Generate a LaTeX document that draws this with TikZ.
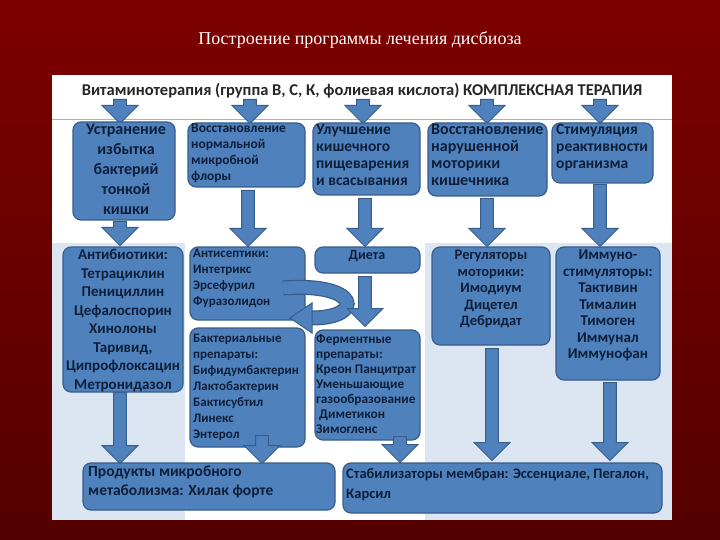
\documentclass[tikz,border=0pt]{standalone}
\usepackage{fontspec}
\setmainfont{Carlito}
\newfontfamily\titlefont{Liberation Serif}
\usetikzlibrary{shapes.arrows,arrows.meta}
\definecolor{bfill}{HTML}{4F81BD}
\definecolor{bline}{HTML}{385D8A}
\definecolor{btext}{HTML}{0F1F3A}
\definecolor{lblue}{HTML}{DCE6F2}
\definecolor{dred}{HTML}{8B0000}
\begin{document}
\begin{tikzpicture}[x=1pt,y=-1pt,
  bx/.style={draw=bline,fill=bfill,rounded corners=8pt,line width=1.2pt},
  tx/.style={text=btext,font=\bfseries,align=left,inner sep=0pt,anchor=north west},
  txc/.style={text=btext,font=\bfseries,align=center,inner sep=0pt,anchor=north},
  barrow/.style={shape=single arrow,draw=bline,fill=bfill,line width=1pt,minimum width=36pt,single arrow head extend=9pt,inner sep=0pt,single arrow head indent=0pt,rotate=-90,anchor=tail,text width=0pt,text height=9pt}]
\useasboundingbox (0,0) rectangle (720,540);
\shade[top color=dred!90!black,bottom color=dred!60!black] (0,0) rectangle (720,540);
\node[text=white,font=\titlefont\fontsize{18}{20}\selectfont] (title) at (360,40) {Построение программы лечения дисбиоза};
% panel
\fill[white] (52,75) rectangle (672,520);
\fill[lblue] (52,243) rectangle (185,520);
\fill[lblue] (425,243) rectangle (672,520);
\draw[gray!60] (52,119) -- (672,119);
\node[font=\bfseries\fontsize{16.5}{18}\selectfont,text=black!85] (hdr) at (362,91) {Витаминотерапия (группа В, С, К, фолиевая кислота) КОМПЛЕКСНАЯ ТЕРАПИЯ};
% header arrows
\foreach \x/\n in {120/a1,250/a2,363/a3,487/a4,600/a5}
  \node[barrow,minimum height=24pt] (h\n) at (\x,99) {};
% top boxes
\draw[bx] (73,122) rectangle (175,220);
\node[txc,font=\bfseries\fontsize{16}{20}\selectfont] (t1) at (126,124) {Устранение\\избытка\\бактерий\\тонкой\\кишки};
\draw[bx] (188,123) rectangle (305,187);
\node[tx,font=\bfseries\fontsize{13.5}{16}\selectfont] (t2) at (191,124) {Восстановление\\нормальной\\микробной\\флоры};
\draw[bx] (313,123) rectangle (420,195);
\node[tx,font=\bfseries\fontsize{15.5}{17}\selectfont] (t3) at (316,124) {Улучшение\\кишечного\\пищеварения\\и всасывания};
\draw[bx] (428,123) rectangle (547,196);
\node[tx,font=\bfseries\fontsize{16}{17}\selectfont] (t4) at (431,124) {Восстановление\\нарушенной\\моторики\\кишечника};
\draw[bx] (552,123) rectangle (653,183);
\node[tx,font=\bfseries\fontsize{15.5}{17}\selectfont] (t5) at (556,124) {Стимуляция\\реактивности\\организма};
% mid arrows
\node[barrow,minimum height=24pt] (m1) at (120,221) {};
\node[barrow,minimum height=56pt] (m2) at (248,190) {};
\node[barrow,minimum height=48pt] (m3) at (365,198) {};
\node[barrow,minimum height=48pt] (m4) at (487,198) {};
\node[barrow,minimum height=62pt] (m5) at (600,184) {};
% lower boxes
\draw[bx] (63,247) rectangle (183,392);
\node[txc,font=\bfseries\fontsize{15}{18.5}\selectfont] (l1) at (123,249) {Антибиотики:\\Тетрациклин\\Пенициллин\\Цефалоспорин\\Хинолоны\\Таривид,\\Ципрофлоксацин\\Метронидазол};
\draw[bx] (190,247) rectangle (305,320);
\node[tx,font=\bfseries\fontsize{13}{16}\selectfont] (l2) at (193,249) {Антисептики:\\Интетрикс\\Эрсефурил\\Фуразолидон};
\draw[bx] (315,247) rectangle (420,273);
\node[txc,font=\bfseries\fontsize{14}{14}\selectfont] (l3) at (367,250) {Диета};
\draw[bx] (190,328) rectangle (305,447);
\node[tx,font=\bfseries\fontsize{13}{16}\selectfont] (l4) at (193,334) {Бактериальные\\препараты:\\Бифидумбактерин\\Лактобактерин\\Бактисубтил\\Линекс\\Энтерол};
\draw[bx] (315,330) rectangle (420,440);
\node[tx,font=\bfseries\fontsize{13.3}{15}\selectfont] (l5) at (316,334) {Ферментные\\препараты:\\Креон Панцитрат\\Уменьшающие\\газообразование\\\ Диметикон\\Зимогленс};
\draw[bx] (432,247) rectangle (550,345);
\node[txc,font=\bfseries\fontsize{14.5}{16.5}\selectfont] (l6) at (491,250) {Регуляторы\\моторики:\\Имодиум\\Дицетел\\Дебридат};
\draw[bx] (556,247) rectangle (660,380);
\node[txc,font=\bfseries\fontsize{15}{16.5}\selectfont] (l7) at (608,250) {Иммуно-\\стимуляторы:\\Тактивин\\Тималин\\Тимоген\\Иммунал\\Иммунофан};
% curved arrow
\coordinate (cs) at (283,288);
\draw[bline,line width=15pt] (cs) .. controls (360,282) and (365,318) .. (312,318);
\draw[bfill,line width=12.5pt] (cs) .. controls (360,282) and (365,318) .. (312,318);
\fill[bfill,draw=bline,line width=1pt] (312,303) -- (312,333) -- (290,318) -- cycle;
% lower arrows
\node[barrow,minimum height=71pt] (n1) at (120,392) {};
\node[barrow,minimum height=28pt] (n2) at (262,435) {};
\node[barrow,minimum height=50pt] (n3) at (365,276) {};
\node[barrow,minimum height=26pt] (n4) at (400,436) {};
\node[barrow,minimum height=112pt] (n5) at (492,348) {};
\node[barrow,minimum height=78pt] (n6) at (610,382) {};
% bottom boxes
\draw[bx] (83,463) rectangle (335,510);
\node[tx,font=\bfseries\fontsize{15.5}{19}\selectfont] (b1) at (88,466) {Продукты микробного\\метаболизма: Хилак форте};
\draw[bx] (343,463) rectangle (662,513);
\node[tx,font=\bfseries\fontsize{14.5}{20}\selectfont] (b2) at (346,468) {Стабилизаторы мембран: Эссенциале, Пегалон,\\Карсил};
\end{tikzpicture}
\end{document}
